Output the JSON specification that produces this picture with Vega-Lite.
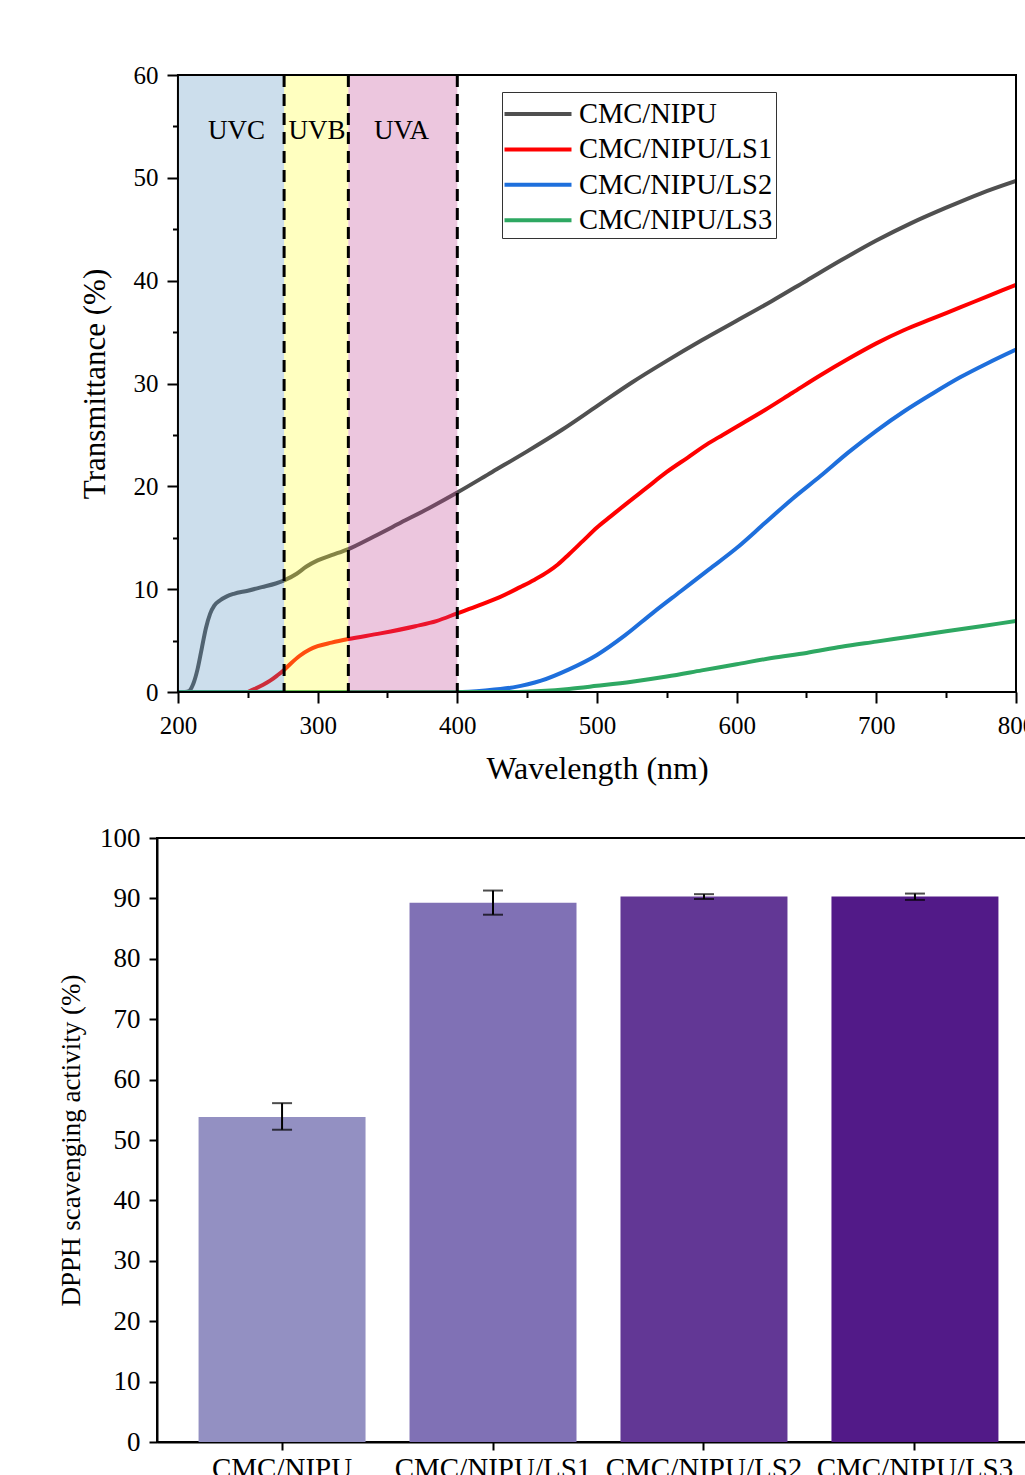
{
  "$schema": "https://vega.github.io/schema/vega-lite/v6.json",
  "background": "white",
  "padding": {"left": 56, "top": 63, "right": 5, "bottom": 5},
  "spacing": 39,
  "resolve": {"scale": {"x": "independent", "y": "independent", "color": "independent"}},
  "config": {
    "font": "Liberation Serif",
    "axis": {
      "labelFont": "Liberation Serif", "titleFont": "Liberation Serif", "titleFontWeight": "normal",
      "labelColor": "black", "titleColor": "black", "tickColor": "black", "domainColor": "black",
      "grid": false, "tickWidth": 2, "domainWidth": 2, "labelFlush": false, "labelOverlap": false, "labelLimit": 0
    },
    "legend": {"labelFont": "Liberation Serif", "labelColor": "black"}
  },
  "datasets": {
    "spectra": [
      {"sample": "CMC/NIPU", "wavelength": 200, "transmittance": 0},
      {"sample": "CMC/NIPU", "wavelength": 205, "transmittance": 0},
      {"sample": "CMC/NIPU", "wavelength": 208, "transmittance": 0.1},
      {"sample": "CMC/NIPU", "wavelength": 211, "transmittance": 0.8},
      {"sample": "CMC/NIPU", "wavelength": 214, "transmittance": 2.2},
      {"sample": "CMC/NIPU", "wavelength": 217, "transmittance": 4.2},
      {"sample": "CMC/NIPU", "wavelength": 220, "transmittance": 6.2},
      {"sample": "CMC/NIPU", "wavelength": 223, "transmittance": 7.6},
      {"sample": "CMC/NIPU", "wavelength": 226, "transmittance": 8.4},
      {"sample": "CMC/NIPU", "wavelength": 230, "transmittance": 8.9},
      {"sample": "CMC/NIPU", "wavelength": 235, "transmittance": 9.3},
      {"sample": "CMC/NIPU", "wavelength": 240, "transmittance": 9.55},
      {"sample": "CMC/NIPU", "wavelength": 250, "transmittance": 9.85},
      {"sample": "CMC/NIPU", "wavelength": 260, "transmittance": 10.2},
      {"sample": "CMC/NIPU", "wavelength": 270, "transmittance": 10.55},
      {"sample": "CMC/NIPU", "wavelength": 276, "transmittance": 10.85},
      {"sample": "CMC/NIPU", "wavelength": 285, "transmittance": 11.5},
      {"sample": "CMC/NIPU", "wavelength": 292, "transmittance": 12.2},
      {"sample": "CMC/NIPU", "wavelength": 300, "transmittance": 12.8},
      {"sample": "CMC/NIPU", "wavelength": 310, "transmittance": 13.3},
      {"sample": "CMC/NIPU", "wavelength": 322, "transmittance": 13.9},
      {"sample": "CMC/NIPU", "wavelength": 340, "transmittance": 15.1},
      {"sample": "CMC/NIPU", "wavelength": 360, "transmittance": 16.5},
      {"sample": "CMC/NIPU", "wavelength": 380, "transmittance": 17.9},
      {"sample": "CMC/NIPU", "wavelength": 400, "transmittance": 19.4},
      {"sample": "CMC/NIPU", "wavelength": 425, "transmittance": 21.4},
      {"sample": "CMC/NIPU", "wavelength": 450, "transmittance": 23.4},
      {"sample": "CMC/NIPU", "wavelength": 475, "transmittance": 25.5},
      {"sample": "CMC/NIPU", "wavelength": 500, "transmittance": 27.8},
      {"sample": "CMC/NIPU", "wavelength": 525, "transmittance": 30.1},
      {"sample": "CMC/NIPU", "wavelength": 550, "transmittance": 32.2},
      {"sample": "CMC/NIPU", "wavelength": 575, "transmittance": 34.2},
      {"sample": "CMC/NIPU", "wavelength": 600, "transmittance": 36.1},
      {"sample": "CMC/NIPU", "wavelength": 625, "transmittance": 38.0},
      {"sample": "CMC/NIPU", "wavelength": 650, "transmittance": 40.0},
      {"sample": "CMC/NIPU", "wavelength": 675, "transmittance": 42.0},
      {"sample": "CMC/NIPU", "wavelength": 700, "transmittance": 43.9},
      {"sample": "CMC/NIPU", "wavelength": 725, "transmittance": 45.6},
      {"sample": "CMC/NIPU", "wavelength": 750, "transmittance": 47.1},
      {"sample": "CMC/NIPU", "wavelength": 775, "transmittance": 48.5},
      {"sample": "CMC/NIPU", "wavelength": 800, "transmittance": 49.7},
      {"sample": "CMC/NIPU/LS1", "wavelength": 250, "transmittance": 0},
      {"sample": "CMC/NIPU/LS1", "wavelength": 255, "transmittance": 0.3},
      {"sample": "CMC/NIPU/LS1", "wavelength": 261, "transmittance": 0.7},
      {"sample": "CMC/NIPU/LS1", "wavelength": 266, "transmittance": 1.1},
      {"sample": "CMC/NIPU/LS1", "wavelength": 271, "transmittance": 1.6},
      {"sample": "CMC/NIPU/LS1", "wavelength": 276, "transmittance": 2.15},
      {"sample": "CMC/NIPU/LS1", "wavelength": 281, "transmittance": 2.8},
      {"sample": "CMC/NIPU/LS1", "wavelength": 287, "transmittance": 3.5},
      {"sample": "CMC/NIPU/LS1", "wavelength": 294, "transmittance": 4.1},
      {"sample": "CMC/NIPU/LS1", "wavelength": 300, "transmittance": 4.45},
      {"sample": "CMC/NIPU/LS1", "wavelength": 310, "transmittance": 4.8},
      {"sample": "CMC/NIPU/LS1", "wavelength": 322, "transmittance": 5.15},
      {"sample": "CMC/NIPU/LS1", "wavelength": 345, "transmittance": 5.7},
      {"sample": "CMC/NIPU/LS1", "wavelength": 370, "transmittance": 6.4},
      {"sample": "CMC/NIPU/LS1", "wavelength": 385, "transmittance": 6.9},
      {"sample": "CMC/NIPU/LS1", "wavelength": 400, "transmittance": 7.65},
      {"sample": "CMC/NIPU/LS1", "wavelength": 415, "transmittance": 8.4},
      {"sample": "CMC/NIPU/LS1", "wavelength": 430, "transmittance": 9.2},
      {"sample": "CMC/NIPU/LS1", "wavelength": 445, "transmittance": 10.2},
      {"sample": "CMC/NIPU/LS1", "wavelength": 455, "transmittance": 10.9},
      {"sample": "CMC/NIPU/LS1", "wavelength": 465, "transmittance": 11.7},
      {"sample": "CMC/NIPU/LS1", "wavelength": 472, "transmittance": 12.4},
      {"sample": "CMC/NIPU/LS1", "wavelength": 480, "transmittance": 13.4},
      {"sample": "CMC/NIPU/LS1", "wavelength": 490, "transmittance": 14.7},
      {"sample": "CMC/NIPU/LS1", "wavelength": 500, "transmittance": 16.0},
      {"sample": "CMC/NIPU/LS1", "wavelength": 510, "transmittance": 17.1},
      {"sample": "CMC/NIPU/LS1", "wavelength": 520, "transmittance": 18.2},
      {"sample": "CMC/NIPU/LS1", "wavelength": 535, "transmittance": 19.8},
      {"sample": "CMC/NIPU/LS1", "wavelength": 550, "transmittance": 21.4},
      {"sample": "CMC/NIPU/LS1", "wavelength": 565, "transmittance": 22.8},
      {"sample": "CMC/NIPU/LS1", "wavelength": 580, "transmittance": 24.2},
      {"sample": "CMC/NIPU/LS1", "wavelength": 590, "transmittance": 25.0},
      {"sample": "CMC/NIPU/LS1", "wavelength": 600, "transmittance": 25.8},
      {"sample": "CMC/NIPU/LS1", "wavelength": 620, "transmittance": 27.4},
      {"sample": "CMC/NIPU/LS1", "wavelength": 640, "transmittance": 29.1},
      {"sample": "CMC/NIPU/LS1", "wavelength": 660, "transmittance": 30.8},
      {"sample": "CMC/NIPU/LS1", "wavelength": 680, "transmittance": 32.4},
      {"sample": "CMC/NIPU/LS1", "wavelength": 700, "transmittance": 33.9},
      {"sample": "CMC/NIPU/LS1", "wavelength": 720, "transmittance": 35.2},
      {"sample": "CMC/NIPU/LS1", "wavelength": 740, "transmittance": 36.3},
      {"sample": "CMC/NIPU/LS1", "wavelength": 760, "transmittance": 37.4},
      {"sample": "CMC/NIPU/LS1", "wavelength": 780, "transmittance": 38.5},
      {"sample": "CMC/NIPU/LS1", "wavelength": 800, "transmittance": 39.6},
      {"sample": "CMC/NIPU/LS2", "wavelength": 200, "transmittance": 0},
      {"sample": "CMC/NIPU/LS2", "wavelength": 400, "transmittance": 0},
      {"sample": "CMC/NIPU/LS2", "wavelength": 420, "transmittance": 0.15},
      {"sample": "CMC/NIPU/LS2", "wavelength": 440, "transmittance": 0.45},
      {"sample": "CMC/NIPU/LS2", "wavelength": 460, "transmittance": 1.1},
      {"sample": "CMC/NIPU/LS2", "wavelength": 480, "transmittance": 2.2},
      {"sample": "CMC/NIPU/LS2", "wavelength": 500, "transmittance": 3.6},
      {"sample": "CMC/NIPU/LS2", "wavelength": 520, "transmittance": 5.5},
      {"sample": "CMC/NIPU/LS2", "wavelength": 540, "transmittance": 7.7},
      {"sample": "CMC/NIPU/LS2", "wavelength": 560, "transmittance": 9.8},
      {"sample": "CMC/NIPU/LS2", "wavelength": 580, "transmittance": 11.9},
      {"sample": "CMC/NIPU/LS2", "wavelength": 600, "transmittance": 14.0},
      {"sample": "CMC/NIPU/LS2", "wavelength": 620, "transmittance": 16.4},
      {"sample": "CMC/NIPU/LS2", "wavelength": 640, "transmittance": 18.8},
      {"sample": "CMC/NIPU/LS2", "wavelength": 660, "transmittance": 21.0},
      {"sample": "CMC/NIPU/LS2", "wavelength": 680, "transmittance": 23.3},
      {"sample": "CMC/NIPU/LS2", "wavelength": 700, "transmittance": 25.4},
      {"sample": "CMC/NIPU/LS2", "wavelength": 720, "transmittance": 27.3},
      {"sample": "CMC/NIPU/LS2", "wavelength": 740, "transmittance": 29.0},
      {"sample": "CMC/NIPU/LS2", "wavelength": 760, "transmittance": 30.6},
      {"sample": "CMC/NIPU/LS2", "wavelength": 780, "transmittance": 32.0},
      {"sample": "CMC/NIPU/LS2", "wavelength": 800, "transmittance": 33.3},
      {"sample": "CMC/NIPU/LS3", "wavelength": 200, "transmittance": 0},
      {"sample": "CMC/NIPU/LS3", "wavelength": 440, "transmittance": 0},
      {"sample": "CMC/NIPU/LS3", "wavelength": 460, "transmittance": 0.1},
      {"sample": "CMC/NIPU/LS3", "wavelength": 480, "transmittance": 0.3},
      {"sample": "CMC/NIPU/LS3", "wavelength": 500, "transmittance": 0.6},
      {"sample": "CMC/NIPU/LS3", "wavelength": 525, "transmittance": 1.0},
      {"sample": "CMC/NIPU/LS3", "wavelength": 550, "transmittance": 1.5},
      {"sample": "CMC/NIPU/LS3", "wavelength": 575, "transmittance": 2.1},
      {"sample": "CMC/NIPU/LS3", "wavelength": 600, "transmittance": 2.7},
      {"sample": "CMC/NIPU/LS3", "wavelength": 625, "transmittance": 3.3},
      {"sample": "CMC/NIPU/LS3", "wavelength": 650, "transmittance": 3.8},
      {"sample": "CMC/NIPU/LS3", "wavelength": 675, "transmittance": 4.4},
      {"sample": "CMC/NIPU/LS3", "wavelength": 700, "transmittance": 4.9},
      {"sample": "CMC/NIPU/LS3", "wavelength": 725, "transmittance": 5.4},
      {"sample": "CMC/NIPU/LS3", "wavelength": 750, "transmittance": 5.9},
      {"sample": "CMC/NIPU/LS3", "wavelength": 775, "transmittance": 6.4},
      {"sample": "CMC/NIPU/LS3", "wavelength": 800, "transmittance": 6.9}
    ],
    "regions": [
      {"region": "UVC", "start": 200, "end": 276, "label_at": 242},
      {"region": "UVB", "start": 276, "end": 322, "label_at": 299.5},
      {"region": "UVA", "start": 322, "end": 400, "label_at": 360}
    ],
    "bounds": [
      {"wavelength": 276},
      {"wavelength": 322},
      {"wavelength": 400}
    ],
    "dpph": [
      {"sample": "CMC/NIPU", "activity": 53.8, "low": 51.7, "high": 56.1},
      {"sample": "CMC/NIPU/LS1", "activity": 89.3, "low": 87.3, "high": 91.3},
      {"sample": "CMC/NIPU/LS2", "activity": 90.3, "low": 89.9, "high": 90.7},
      {"sample": "CMC/NIPU/LS3", "activity": 90.3, "low": 89.75, "high": 90.8}
    ]
  },
  "vconcat": [
    {
      "width": 859,
      "height": 617,
      "view": {"stroke": null},
      "resolve": {"axis": {"x": "independent", "y": "independent"}},
      "layer": [
        {
          "data": {"name": "spectra"},
          "mark": {"type": "line", "strokeWidth": 4, "interpolate": "monotone", "clip": true},
          "encoding": {
            "x": {"field": "wavelength", "type": "quantitative",
              "scale": {"domain": [185, 800], "nice": false, "zero": false},
              "axis": {"orient": "bottom", "values": [200, 300, 400, 500, 600, 700, 800], "tickSize": 11, "labelFontSize": 25, "labelPadding": 10, "domain": false,
                "title": "Wavelength (nm)", "titleFontSize": 32, "titlePadding": 15, "titleX": 440}},
            "y": {"field": "transmittance", "type": "quantitative",
              "scale": {"domain": [0, 60], "nice": false},
              "axis": {"orient": "left", "values": [0, 10, 20, 30, 40, 50, 60], "tickSize": 11, "labelFontSize": 25, "labelPadding": 9, "domain": false, "offset": -21,
                "title": "Transmittance (%)", "titleFontSize": 31, "titlePadding": 22}},
            "color": {"field": "sample", "type": "nominal",
              "scale": {"domain": ["CMC/NIPU", "CMC/NIPU/LS1", "CMC/NIPU/LS2", "CMC/NIPU/LS3"], "range": ["#505050", "#FF0000", "#1E6FDC", "#2EA862"]},
              "legend": {"orient": "none", "legendX": 345, "legendY": 17, "title": null,
                "symbolType": "M-2,0H2", "symbolSize": 1122, "symbolOffset": 14, "symbolStrokeWidth": 4,
                "labelFontSize": 28.5, "labelOffset": 22, "labelLimit": 0, "rowPadding": 1.4,
                "strokeColor": "#333333", "fillColor": "white", "padding": 3}}
          }
        },
        {
          "data": {"name": "regions"},
          "mark": {"type": "rect", "opacity": 0.3},
          "encoding": {
            "x": {"field": "start", "type": "quantitative", "scale": {"domain": [185, 800], "nice": false, "zero": false}, "axis": null},
            "x2": {"field": "end"},
            "y": {"datum": 0, "type": "quantitative", "scale": {"domain": [0, 60], "nice": false}, "axis": null},
            "y2": {"datum": 60},
            "fill": {"field": "region", "type": "nominal",
              "scale": {"domain": ["UVC", "UVB", "UVA"], "range": ["#5591C0", "#FFFF2D", "#C04191"]}, "legend": null}
          }
        },
        {
          "data": {"name": "bounds"},
          "mark": {"type": "rule", "color": "black", "strokeWidth": 3, "strokeDash": [12, 7]},
          "encoding": {
            "x": {"field": "wavelength", "type": "quantitative", "scale": {"domain": [185, 800], "nice": false, "zero": false}, "axis": null}
          }
        },
        {
          "data": {"name": "regions"},
          "mark": {"type": "text", "font": "Liberation Serif", "fontSize": 27, "color": "black", "baseline": "middle", "align": "center"},
          "encoding": {
            "x": {"field": "label_at", "type": "quantitative", "scale": {"domain": [185, 800], "nice": false, "zero": false}, "axis": null},
            "y": {"datum": 54.6, "type": "quantitative", "scale": {"domain": [0, 60], "nice": false}, "axis": null},
            "text": {"field": "region"}
          }
        },
        {
          "data": {"values": [{}]},
          "mark": {"type": "rect", "fill": "transparent", "stroke": "black", "strokeWidth": 2},
          "encoding": {
            "x": {"datum": 200, "type": "quantitative", "scale": {"domain": [185, 800], "nice": false, "zero": false},
              "axis": {"orient": "bottom", "values": [250, 350, 450, 550, 650, 750], "tickSize": 5.5, "labels": false, "domain": false, "title": null}},
            "x2": {"datum": 800},
            "y": {"datum": 0, "type": "quantitative", "scale": {"domain": [0, 60], "nice": false},
              "axis": {"orient": "left", "values": [5, 15, 25, 35, 45, 55], "tickSize": 5.5, "labels": false, "domain": false, "title": null, "offset": -21}},
            "y2": {"datum": 60}
          }
        }
      ]
    },
    {
      "width": 883,
      "height": 604,
      "view": {"stroke": "black", "strokeWidth": 2},
      "data": {"name": "dpph"},
      "encoding": {
        "x": {"field": "sample", "type": "nominal", "sort": null,
          "scale": {"paddingInner": 0.2085, "paddingOuter": 0.197},
          "axis": {"title": null, "labelAngle": 0, "labelFontSize": 29, "tickSize": 8, "labelPadding": 4, "labelLimit": 0}}
      },
      "layer": [
        {
          "mark": {"type": "bar"},
          "encoding": {
            "y": {"field": "activity", "type": "quantitative", "scale": {"domain": [0, 100], "nice": false},
              "axis": {"values": [0, 10, 20, 30, 40, 50, 60, 70, 80, 90, 100], "tickSize": 8, "labelFontSize": 27, "labelPadding": 9,
                "title": "DPPH scavenging activity (%)", "titleFontSize": 27, "titlePadding": 14}},
            "color": {"field": "sample", "type": "nominal",
              "scale": {"domain": ["CMC/NIPU", "CMC/NIPU/LS1", "CMC/NIPU/LS2", "CMC/NIPU/LS3"], "range": ["#9390C2", "#8071B5", "#623795", "#521A88"]},
              "legend": null}
          }
        },
        {
          "mark": {"type": "rule", "color": "black", "strokeWidth": 2},
          "encoding": {
            "y": {"field": "low", "type": "quantitative"},
            "y2": {"field": "high"}
          }
        },
        {
          "mark": {"type": "tick", "color": "black", "size": 20, "thickness": 2},
          "encoding": {"y": {"field": "low", "type": "quantitative"}}
        },
        {
          "mark": {"type": "tick", "color": "black", "size": 20, "thickness": 2},
          "encoding": {"y": {"field": "high", "type": "quantitative"}}
        }
      ]
    }
  ]
}
